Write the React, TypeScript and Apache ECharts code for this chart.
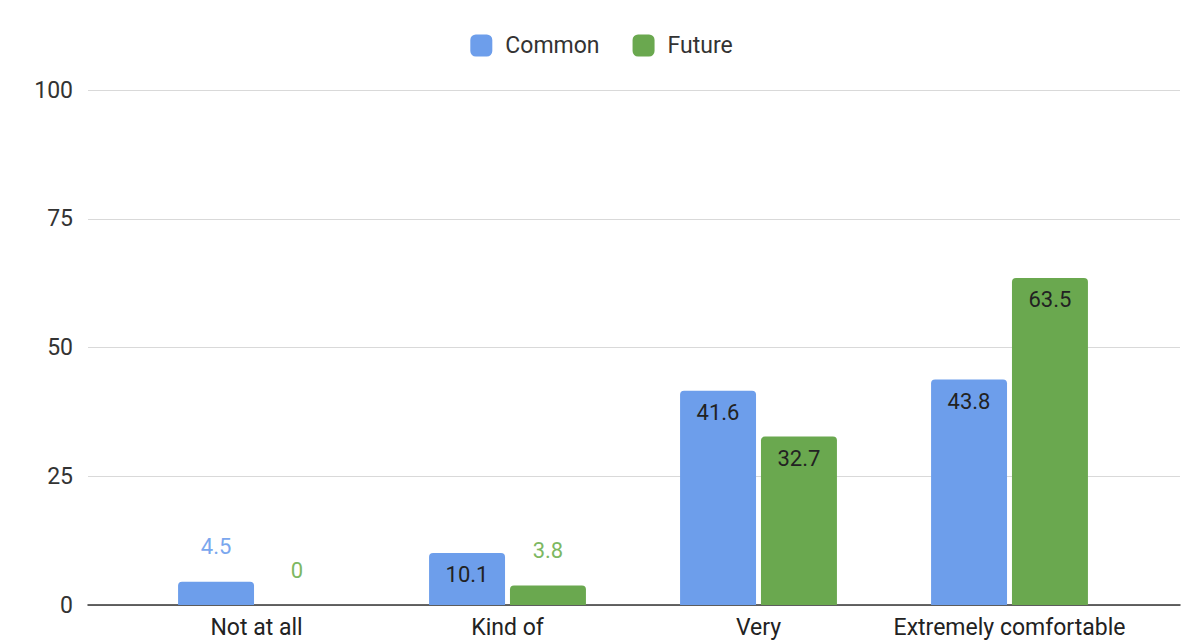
import React, { useEffect, useRef } from "react";
import * as echarts from "echarts";

const categories = ["Not at all", "Kind of", "Very", "Extremely comfortable"];
const commonValues = [4.5, 10.1, 41.6, 43.8];
const futureValues = [0, 3.8, 32.7, 63.5];
const yTicks = [0, 25, 50, 75, 100];

const BLUE = "#6d9eeb";
const GREEN = "#6aa84f";
const FONT = "Roboto, Arial, sans-serif";

function itemsFor(values: number[], outsideColor: string) {
  return values.map((v) => {
    const outside = v < 8;
    return {
      value: v,
      label: outside
        ? { position: "top", distance: 24, color: outsideColor }
        : { position: "insideTop", distance: 11, color: "#222222" },
    };
  });
}

export default function App() {
  const ref = useRef<HTMLDivElement>(null);
  useEffect(() => {
    if (!ref.current) return;
    const chart = echarts.init(ref.current, undefined, { renderer: "svg" });
    const labelBase = { show: true, fontFamily: FONT, fontSize: 22 };
    chart.setOption({
      animation: false,
      textStyle: { fontFamily: FONT },
      legend: {
        top: 29,
        left: "center",
        itemWidth: 22,
        itemHeight: 22,
        itemGap: 33,
        icon: "roundRect",
        textStyle: { fontSize: 23, color: "#333333", fontFamily: FONT, padding: [0, 0, 0, 8] },
        data: ["Common", "Future"],
      },
      grid: [
        { left: 88, right: 23, top: 90, bottom: 36 },
        { left: 131, right: 68, top: 90, bottom: 36 },
      ],
      xAxis: [
        {
          gridIndex: 0,
          type: "value",
          min: 0,
          max: 1,
          show: true,
          axisLabel: { show: false },
          splitLine: { show: false },
          axisTick: { show: false },
          axisLine: { show: true, lineStyle: { color: "#333333", width: 1.5 } },
        },
        {
          gridIndex: 1,
          type: "category",
          data: categories,
          axisLine: { show: false },
          axisTick: { show: false },
          axisLabel: {
            interval: 0,
            color: "#222222",
            fontSize: 23,
            margin: 10,
            lineHeight: 24,
            fontFamily: FONT,
          },
        },
      ],
      yAxis: [
        {
          gridIndex: 0,
          type: "value",
          min: yTicks[0],
          max: yTicks[yTicks.length - 1],
          interval: 25,
          axisLine: { show: false },
          axisTick: { show: false },
          axisLabel: { color: "#333333", fontSize: 23, margin: 15, fontFamily: FONT },
          splitLine: { lineStyle: { color: "#d9d9d9", width: 1 } },
        },
        {
          gridIndex: 1,
          type: "value",
          min: yTicks[0],
          max: yTicks[yTicks.length - 1],
          interval: 25,
          show: false,
          splitLine: { show: false },
        },
      ],
      series: [
        {
          name: "Common",
          type: "bar",
          xAxisIndex: 1,
          yAxisIndex: 1,
          data: itemsFor(commonValues, "#7aa7ee"),
          itemStyle: { color: BLUE, borderRadius: [4, 4, 0, 0] },
          barCategoryGap: "37.5%",
          barGap: "6.5%",
          label: labelBase,
          z: 3,
        },
        {
          name: "Future",
          type: "bar",
          xAxisIndex: 1,
          yAxisIndex: 1,
          data: itemsFor(futureValues, "#7db862"),
          itemStyle: { color: GREEN, borderRadius: [4, 4, 0, 0] },
          barCategoryGap: "37.5%",
          barGap: "6.5%",
          label: labelBase,
          z: 3,
        },
      ],
    });
    return () => chart.dispose();
  }, []);
  return <div ref={ref} style={{ width: 1203, height: 641, position: "absolute", left: 0, top: 0 }} />;
}
